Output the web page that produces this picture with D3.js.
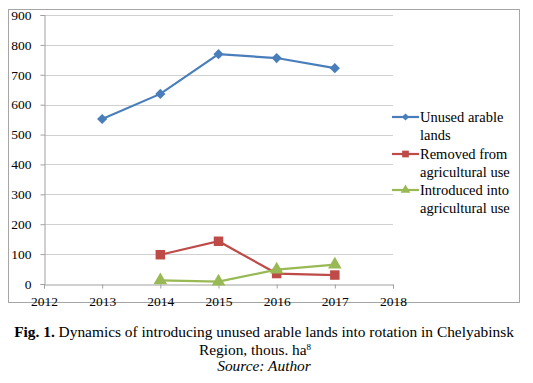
<!DOCTYPE html>
<html><head><meta charset="utf-8">
<script src="https://cdn.jsdelivr.net/npm/d3@7"></script>
<style>body{margin:0;background:#fff}svg{display:block}</style>
</head><body>
<svg id="c" width="533" height="383" font-family="Liberation Serif"></svg>
<script>
const years = [2013, 2014, 2015, 2016, 2017];
const unusedArable = [552, 636, 769, 756, 722];
const removedFromUse = [null, 98, 143, 35, 30];
const introducedIntoUse = [null, 12, 8, 48, 65];
const xTicks = [2012, 2013, 2014, 2015, 2016, 2017, 2018];
const yTicks = [0, 100, 200, 300, 400, 500, 600, 700, 800, 900];
const seriesNames = [["Unused arable", "lands"], ["Removed from", "agricultural use"], ["Introduced into", "agricultural use"]];

const FONT = "Liberation Serif";
const svg = d3.select("#c");
const x = d3.scaleLinear().domain([2012, 2018]).range([44, 393]);
const y = d3.scaleLinear().domain([0, 900]).range([284, 15]);

// outer border
svg.append("rect").attr("x", 8.5).attr("y", 9.5).attr("width", 511).attr("height", 293)
  .attr("fill", "#fff").attr("stroke", "#a6a6a6");

// gridlines
svg.append("g").selectAll("line").data(yTicks.filter(d => d > 0)).join("line")
  .attr("x1", 44).attr("x2", 393).attr("y1", d => Math.round(y(d)) + 0.5).attr("y2", d => Math.round(y(d)) + 0.5)
  .attr("stroke", "#d0d0d0").attr("stroke-width", 1.2);

// y axis
const yAxis = svg.append("g").attr("transform", "translate(44.5,0)")
  .call(d3.axisLeft(y).tickValues(yTicks).tickSize(4).tickPadding(9).tickFormat(d3.format("d")));
yAxis.attr("font-family", FONT);
yAxis.selectAll("path,line").attr("stroke", "#a0a0a0");
yAxis.selectAll("text").attr("font-family", FONT).attr("font-size", 13.5).attr("fill", "#000");

// x axis
const xAxis = svg.append("g").attr("transform", "translate(0,284.5)")
  .call(d3.axisBottom(x).tickValues(xTicks).tickSize(4).tickSizeOuter(4).tickPadding(8).tickFormat(d3.format("d")));
xAxis.attr("font-family", FONT);
xAxis.selectAll("path,line").attr("stroke", "#a0a0a0");
xAxis.selectAll("text").attr("font-family", FONT).attr("font-size", 13.5).attr("fill", "#000");

const colors = ["#4a7ebb", "#be4b48", "#98b954"];
const data = [unusedArable, removedFromUse, introducedIntoUse];
const shapes = [d3.symbolSquare, d3.symbolSquare, d3.symbolTriangle];
const rots = [45, 0, 0];
const sizes = [52, 90, 80];

const line = d3.line().defined(d => d.v != null).x(d => x(d.yr)).y(d => y(d.v));
data.forEach((arr, i) => {
  const pts = years.map((yr, j) => ({yr, v: arr[j]}));
  svg.append("path").datum(pts).attr("d", line).attr("fill", "none")
    .attr("stroke", colors[i]).attr("stroke-width", 2.2);
  svg.append("g").selectAll("path").data(pts.filter(p => p.v != null)).join("path")
    .attr("transform", p => `translate(${x(p.yr)},${y(p.v)}) rotate(${rots[i]})`)
    .attr("d", d3.symbol().type(shapes[i]).size(sizes[i])).attr("fill", colors[i]);
});

// legend
const legY = [117, 154, 190];
seriesNames.forEach((lines, i) => {
  const g = svg.append("g").attr("transform", `translate(0,${legY[i]})`);
  g.append("line").attr("x1", 392).attr("x2", 419).attr("y1", 0).attr("y2", 0)
    .attr("stroke", colors[i]).attr("stroke-width", 2.2);
  g.append("path").attr("transform", `translate(405.5,0) rotate(${rots[i]})`)
    .attr("d", d3.symbol().type(shapes[i]).size(sizes[i] * 0.5)).attr("fill", colors[i]);
  lines.forEach((t, k) => {
    g.append("text").attr("x", 420).attr("y", 5 + k * 17.5).text(t)
      .attr("font-family", FONT).attr("font-size", 14.5).attr("fill", "#000");
  });
});

// caption
const cap = svg.append("g").attr("font-family", FONT).attr("font-size", 15.4).attr("fill", "#000");
const t1 = cap.append("text").attr("x", 264).attr("y", 337).attr("text-anchor", "middle");
t1.append("tspan").attr("font-weight", "bold").text("Fig. 1.");
t1.append("tspan").text(" Dynamics of introducing unused arable lands into rotation in Chelyabinsk");
const t2 = cap.append("text").attr("x", 255).attr("y", 355).attr("text-anchor", "middle");
t2.append("tspan").text("Region, thous. ha");
t2.append("tspan").attr("font-size", 9).attr("dy", -5).text("8");
cap.append("text").attr("x", 264).attr("y", 371).attr("text-anchor", "middle")
  .attr("font-style", "italic").text("Source: Author");
</script>
</body></html>
